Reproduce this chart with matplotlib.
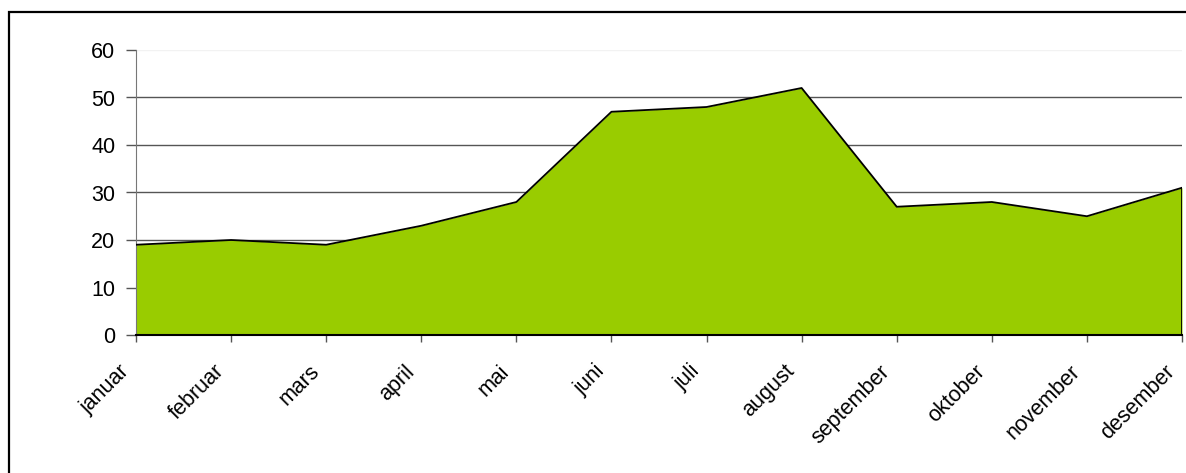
import numpy as np
import matplotlib.pyplot as plt
from matplotlib.patches import Rectangle
from matplotlib.transforms import ScaledTranslation

months = ['januar', 'februar', 'mars', 'april', 'mai', 'juni', 'juli',
          'august', 'september', 'oktober', 'november', 'desember']
values = [19, 20, 19, 23, 28, 47, 48, 52, 27, 28, 25, 31]
yticks = [0, 10, 20, 30, 40, 50, 60]

plt.rcParams['font.family'] = ['Liberation Sans', 'DejaVu Sans']

fig = plt.figure(figsize=(11.86, 4.73), dpi=100)
ax = fig.add_axes([136/1186, 1-335/473, (1182-136)/1186, (335-50)/473])

x = np.arange(len(months))
ax.fill_between(x, values, 0, color='#99cc00', linewidth=0, zorder=2)
ax.plot(x, values, color='black', linewidth=1.3, zorder=3)
ax.plot([x[-1], x[-1]], [0, values[-1]], color='black', linewidth=1.3, zorder=3)

for v in yticks[1:-1]:
    ax.axhline(v, color='#555555', linewidth=1.0, zorder=1)
ax.axhline(yticks[-1], color='#f2f2f2', linewidth=1.0, zorder=1)

ax.set_xlim(0, len(months) - 1)
ax.set_ylim(0, 60)
ax.set_yticks(yticks)
ax.set_xticks(x)
ax.set_xticklabels(months, rotation=45, ha='right', va='center', rotation_mode='anchor')
ax.tick_params(axis='y', length=7, width=1, color='#555555', labelsize=15.5, pad=8)
ax.tick_params(axis='x', length=5, width=1, color='#555555', labelsize=15.5, pad=19)
# shift the rotated labels a little to the left, like the original
for lab in ax.get_xticklabels():
    lab.set_transform(lab.get_transform() + ScaledTranslation(-10/100, 0, fig.dpi_scale_trans))

for s in ['top', 'right']:
    ax.spines[s].set_visible(False)
ax.spines['left'].set_color('#777777')
ax.spines['bottom'].set_color('black')
ax.spines['bottom'].set_linewidth(1.5)
ax.spines['bottom'].set_zorder(4)

fig.patches.append(Rectangle((9/1186, -0.1), 1.2, 1 - 12/473 + 0.1, transform=fig.transFigure,
                             fill=False, edgecolor='black', linewidth=1.6))

fig.savefig('out.png', dpi=100)
